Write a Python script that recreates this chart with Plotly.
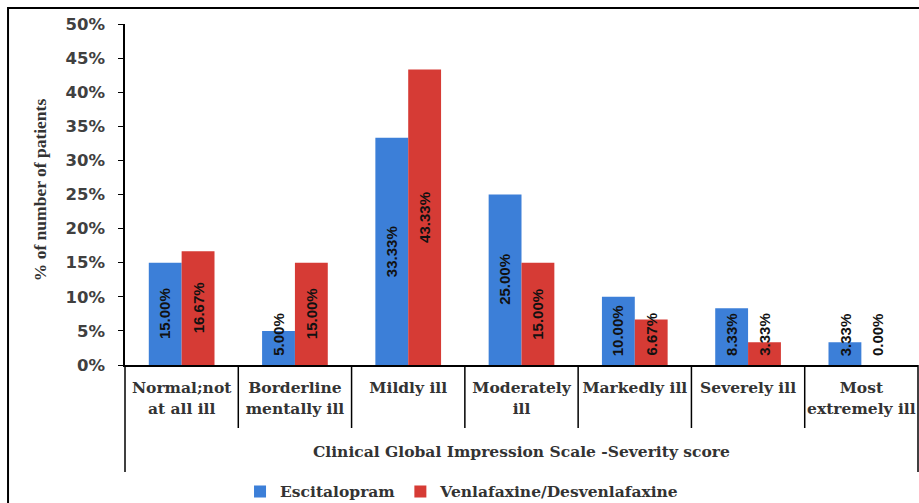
import plotly.graph_objects as go

categories = ["Normal;not<br>at all ill", "Borderline<br>mentally ill", "Mildly ill",
              "Moderately<br>ill", "Markedly ill", "Severely ill", "Most<br>extremely ill"]
escitalopram = [15.00, 5.00, 33.33, 25.00, 10.00, 8.33, 3.33]
venlafaxine = [16.67, 15.00, 43.33, 15.00, 6.67, 3.33, 0.00]
series_names = ["Escitalopram", "Venlafaxine/Desvenlafaxine"]
y_ticks = [0, 5, 10, 15, 20, 25, 30, 35, 40, 45, 50]

BLUE = "#3C7FD8"
RED = "#D63B35"
idx = list(range(len(categories)))
half = 0.145

fig = go.Figure()
fig.add_trace(go.Bar(x=[i - half for i in idx], y=escitalopram, width=2 * half,
                     name=series_names[0], marker=dict(color=BLUE, line=dict(width=0))))
fig.add_trace(go.Bar(x=[i + half for i in idx], y=venlafaxine, width=2 * half,
                     name=series_names[1], marker=dict(color=RED, line=dict(width=0))))

annotations = []
for vals, sgn in ((escitalopram, -1), (venlafaxine, 1)):
    for i, v in zip(idx, vals):
        annotations.append(dict(x=i + sgn * half, y=max(v / 2, 4.5), xref="x", yref="y",
                                xanchor="center", yanchor="middle",
                                text=f"{v:.2f}%", textangle=-90, showarrow=False,
                                font=dict(family="Liberation Sans", size=15, color="#111111",
                                          weight="bold")))

annotations.append(dict(x=0.5, y=-0.255, xref="paper", yref="paper", showarrow=False,
                        xanchor="center", yanchor="middle",
                        text="Clinical Global Impression Scale -Severity score",
                        font=dict(family="DejaVu Serif", size=15.5, color="#333333", weight="bold")))
annotations.append(dict(x=-0.107, y=0.513, xref="paper", yref="paper", showarrow=False,
                        xanchor="center", yanchor="middle",
                        text="% of number of patients", textangle=-90,
                        font=dict(family="Liberation Serif", size=17.5, color="#333333", weight="bold")))

shapes = []
for i in idx[:-1]:
    shapes.append(dict(type="line", xref="x", yref="paper", x0=i + 0.5, x1=i + 0.5, y0=0, y1=-0.1848,
                       line=dict(color="#000000", width=1.5)))
for xp in (0, 1):
    shapes.append(dict(type="line", xref="paper", yref="paper", x0=xp, x1=xp, y0=0, y1=-0.3138,
                       line=dict(color="#000000", width=1.5)))
shapes.append(dict(type="rect", xref="paper", yref="paper", x0=-0.1475, x1=1.01, y0=1.047, y1=-0.45,
                   line=dict(color="#000000", width=2)))

fig.update_layout(
    width=919, height=503,
    margin=dict(l=125, r=1, t=24, b=138, autoexpand=False),
    paper_bgcolor="white", plot_bgcolor="white",
    barmode="overlay",
    showlegend=True,
    legend=dict(orientation="h", x=0.425, xanchor="center", y=-0.372, yanchor="middle",
                font=dict(family="DejaVu Serif", size=15.5, color="#333333", weight="bold")),
    annotations=annotations,
    shapes=shapes,
    xaxis=dict(range=[-0.5, len(categories) - 0.5], tickvals=idx, ticktext=categories,
               showgrid=False, zeroline=False, showline=True, linecolor="#000000", linewidth=1.5,
               ticks="", ticklabelstandoff=8,
               tickfont=dict(family="DejaVu Serif", size=15.5, color="#333333", weight="bold")),
    yaxis=dict(range=[0, 50], tickvals=y_ticks, ticktext=[f"{t}%" for t in y_ticks],
               showgrid=False, zeroline=False, showline=True, linecolor="#000000", linewidth=1.5,
               ticks="outside", ticklen=5, tickcolor="#000000", ticklabelstandoff=10,
               tickfont=dict(family="DejaVu Sans", size=16.5, color="#404040", weight="bold")),
)

fig.write_html("out.html", config={"displayModeBar": False},
               post_script="document.body.style.margin='0';document.body.style.overflow='hidden';")
